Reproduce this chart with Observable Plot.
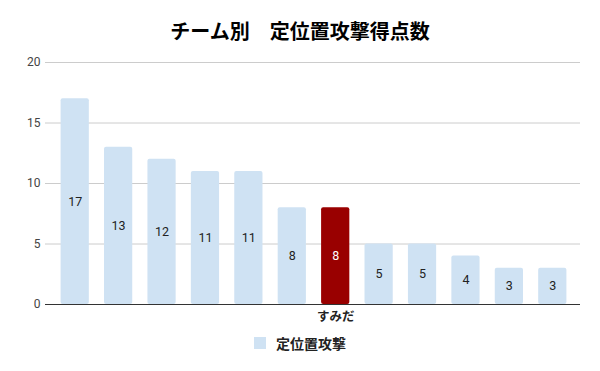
<!DOCTYPE html>
<html><head><meta charset="utf-8">
<script src="https://cdn.jsdelivr.net/npm/d3@7"></script>
<script src="https://cdn.jsdelivr.net/npm/@observablehq/plot@0.6"></script>
<style>
body{margin:0;background:#fff;font-family:Roboto,"Noto Sans CJK JP",sans-serif;}
#wrap{position:relative;width:600px;height:371px;overflow:hidden;}
#title{position:absolute;left:0;top:16px;width:600px;text-align:center;font:bold 20px "Noto Sans CJK JP",sans-serif;color:#000;}
#legend{position:absolute;left:0;top:333px;width:600px;display:flex;justify-content:center;align-items:center;font:bold 14px "Noto Sans CJK JP",sans-serif;color:#222;}
#legend .sw{width:12px;height:12px;background:#cfe2f3;margin-right:10px;}
#chart{position:absolute;left:0;top:0;}
</style></head>
<body><div id="wrap">
<div id="chart"></div>
<div id="title">チーム別　定位置攻撃得点数</div>
<div id="legend"><span class="sw"></span><span>定位置攻撃</span></div>
</div>
<script>
const teams = ["チーム1","チーム2","チーム3","チーム4","チーム5","チーム6","すみだ","チーム8","チーム9","チーム10","チーム11","チーム12"];
const values = [17,13,12,11,11,8,8,5,5,4,3,3];
const highlight = "すみだ";
const yTicks = [0,5,10,15,20];
const seriesName = "定位置攻撃";

const data = teams.map((t,i)=>({team:t, value:values[i]}));
const chart = Plot.plot({
  width:600, height:371,
  marginLeft:45, marginRight:20, marginTop:62, marginBottom:67,
  style:{fontFamily:"Roboto, 'Noto Sans CJK JP', sans-serif", fontSize:"12px", background:"transparent"},
  x:{type:"band", domain:teams, paddingInner:0.35, paddingOuter:0.175, insetLeft:8, insetRight:6, round:false, label:null},
  y:{domain:[0,20], ticks:yTicks, label:null},
  marks:[
    Plot.ruleY(yTicks.filter(d=>d>0), {stroke:"#cccccc", strokeWidth:1}),
    Plot.barY(data, {x:"team", y:"value", fill:d=>d.team===highlight?"#990000":"#cfe2f3", rx:2}),
    Plot.text(data, {x:"team", y:d=>d.value/2, text:d=>String(d.value), fill:d=>d.team===highlight?"#ffffff":"#222222", fontSize:12.5}),
    Plot.ruleY([0], {stroke:"#333333", strokeWidth:1}),
    Plot.axisY({ticks:yTicks, tickSize:0, tickPadding:5, fill:"#444444", fontSize:12}),
    Plot.axisX({tickSize:0, tickPadding:8, tickFormat:d=>d===highlight?d:"", fill:"#222222", fontSize:12.5, fontWeight:"bold"})
  ]
});
document.getElementById("chart").appendChild(chart);
</script>
</body></html>
